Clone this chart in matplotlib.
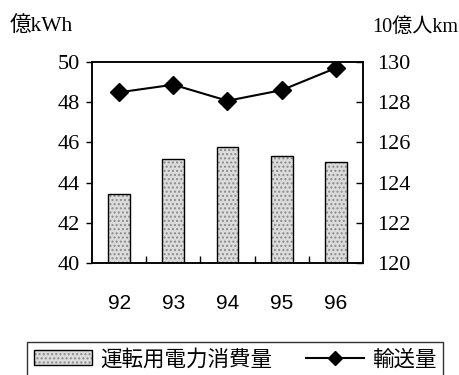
import numpy as np
import matplotlib.pyplot as plt

# --- data ---
years = ["92", "93", "94", "95", "96"]
power = [43.45, 45.15, 45.77, 45.3, 45.0]        # 億kWh
transport = [128.49, 128.87, 128.07, 128.6, 129.7]  # 10億人km

left_ticks = [40, 42, 44, 46, 48, 50]
right_ticks = [120, 122, 124, 126, 128, 130]

jp = ["Noto Sans CJK JP", "DejaVu Sans"]
serif_jp = ["Liberation Serif", "Noto Sans CJK JP"]

fig = plt.figure(figsize=(4.59, 3.75), dpi=100)
ax = fig.add_axes([0.2004, 0.2987, 0.5904, 0.536])
x = np.arange(len(years))

bars = ax.bar(x, power, width=0.4, facecolor="#dcdcdc", edgecolor="black",
              linewidth=1.0, hatch="....", label="運転用電力消費量")
for b in bars:
    b._hatch_color = (0.55, 0.55, 0.55, 1.0)
ax.set_ylim(40, 50)
ax.set_xlim(-0.5, len(years) - 0.5)
ax.set_yticks(left_ticks)
ax.set_yticklabels([str(t) for t in left_ticks])
ax.tick_params(axis="y", direction="out", length=4, width=1, pad=5)
ax.set_xticks(x)
ax.set_xticklabels(years)
ax.tick_params(axis="x", which="major", length=0, pad=22)
ax.set_xticks(x[:-1] + 0.5, minor=True)
ax.tick_params(axis="x", which="minor", direction="in", length=5, width=1)

ax2 = ax.twinx()
line, = ax2.plot(x, transport, color="black", linewidth=1.5, marker="D",
                 markersize=9, label="輸送量")
ax2.set_ylim(120, 130)
ax2.set_yticks(right_ticks)
ax2.set_yticklabels([str(t) for t in right_ticks])
ax2.tick_params(axis="y", direction="in", length=5, width=1, pad=10)

for lbl in ax.get_yticklabels() + ax2.get_yticklabels():
    lbl.set_fontfamily("Liberation Serif")
    lbl.set_fontsize(16)
for lbl in ax.get_xticklabels():
    lbl.set_fontfamily("Liberation Sans")
    lbl.set_fontsize(15)

for a in (ax, ax2):
    for s in a.spines.values():
        s.set_linewidth(1.1)

fig.text(0.022, 0.928, "億kWh", fontfamily=serif_jp, fontsize=15.5, va="center", ha="left")
fig.text(0.81, 0.928, "10億人km", fontfamily=serif_jp, fontsize=14.5, va="center", ha="left")

leg = fig.legend([bars, line], ["運転用電力消費量", "輸送量"], loc="upper left",
                 bbox_to_anchor=(0.059, 0.088), ncol=2, prop={"family": jp, "size": 15.5},
                 frameon=True, fancybox=False, edgecolor="black", handlelength=2.7,
                 handletextpad=0.4, columnspacing=1.55, borderaxespad=0, borderpad=0.3,
                 markerscale=0.75)
leg.get_frame().set_linewidth(1.0)

fig.savefig("out.png", dpi=100)
